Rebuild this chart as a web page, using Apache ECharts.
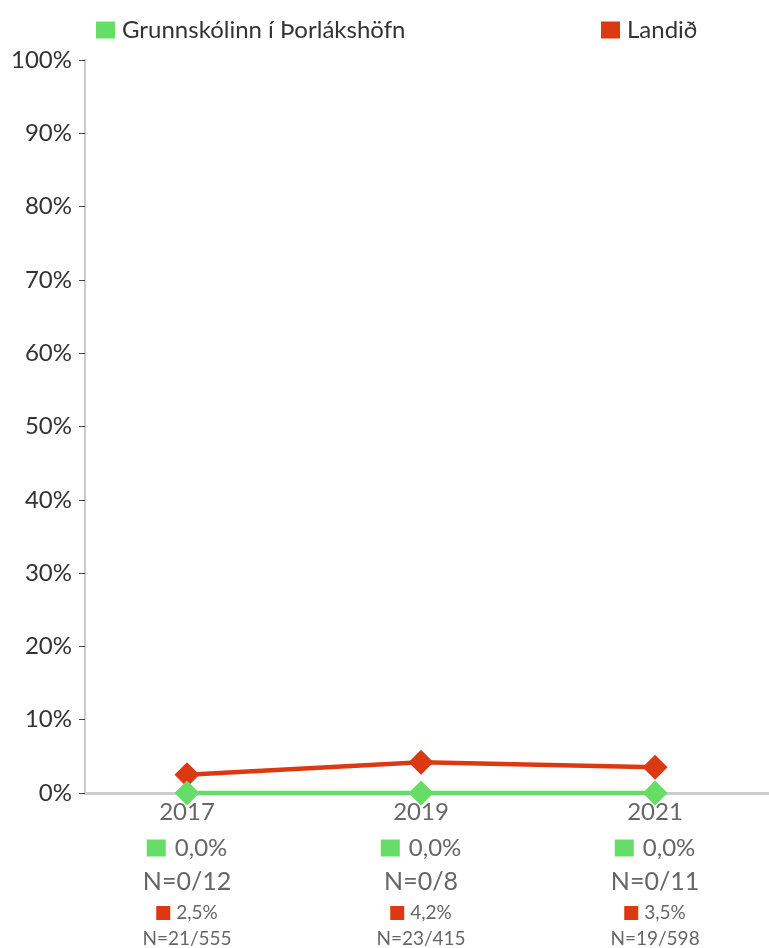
<!DOCTYPE html>
<html>
<head>
<meta charset="utf-8">
<script src="https://cdn.jsdelivr.net/npm/echarts@6/dist/echarts.min.js"></script>
<style>
html,body{margin:0;padding:0;background:#fff;}
#chart{width:769px;height:948px;}
</style>
</head>
<body>
<div id="chart"></div>
<script>
var years = ['2017', '2019', '2021'];
var schoolName = 'Grunnskólinn í Þorlákshöfn';
var countryName = 'Landið';
var schoolValues = [0, 0, 0];
var countryValues = [2.5, 4.2, 3.5];
var schoolN = ['0/12', '0/8', '0/11'];
var countryN = ['21/555', '23/415', '19/598'];
var yTicks = [0, 10, 20, 30, 40, 50, 60, 70, 80, 90, 100];

var GREEN = '#66dd66';
var RED = '#dc3912';
var FONT = 'Lato';

function pct(v) { return v.toFixed(1).replace('.', ',') + '%'; }

var chart = echarts.init(document.getElementById('chart'));
chart.setOption({
  backgroundColor: '#fff',
  animation: false,
  textStyle: { fontFamily: FONT },
  legend: [
    {
      data: [schoolName], left: 91, top: 13, icon: 'rect',
      itemWidth: 19, itemHeight: 17,
      textStyle: { fontSize: 24, color: '#333', fontFamily: FONT, padding: [0, 0, 0, 2] }
    },
    {
      data: [countryName], left: 596, top: 13, icon: 'rect',
      itemWidth: 19, itemHeight: 17,
      textStyle: { fontSize: 24, color: '#333', fontFamily: FONT, padding: [0, 0, 0, 2] }
    }
  ],
  grid: { left: 85, right: 0, top: 60, bottom: 155, containLabel: false },
  xAxis: {
    type: 'value',
    min: -0.436,
    max: 2.487,
    splitLine: { show: false },
    axisTick: { show: false },
    axisLine: { show: true, onZero: false, lineStyle: { color: '#cccccc', width: 3 } },
    axisLabel: {
      customValues: [0, 1, 2],
      margin: 2,
      formatter: function (v) {
        var i = Math.round(v);
        return '{y|' + years[i] + '}\n' +
          '{gs|}{gp|' + pct(schoolValues[i]) + '}\n' +
          '{gn|N=' + schoolN[i] + '}\n' +
          '{rs|}{rp|' + pct(countryValues[i]) + '}\n' +
          '{rn|N=' + countryN[i] + '}';
      },
      rich: {
        y: { fontSize: 24, color: '#666', lineHeight: 34, fontFamily: FONT },
        gs: { width: 19, height: 17, backgroundColor: GREEN, lineHeight: 38 },
        gp: { fontSize: 24, color: '#666', lineHeight: 38, fontFamily: FONT, padding: [0, 0, 0, 9] },
        gn: { fontSize: 25, color: '#666', lineHeight: 30, fontFamily: FONT },
        rs: { width: 14, height: 14, backgroundColor: RED, lineHeight: 32 },
        rp: { fontSize: 19, color: '#666', lineHeight: 32, fontFamily: FONT, padding: [0, 0, 0, 6] },
        rn: { fontSize: 19, color: '#666', lineHeight: 19, fontFamily: FONT }
      }
    }
  },
  yAxis: {
    type: 'value',
    min: 0,
    max: 100,
    interval: 10,
    splitLine: { show: false },
    axisLine: { show: true, onZero: false, lineStyle: { color: '#cccccc', width: 2 } },
    axisTick: { show: true, length: 6, lineStyle: { color: '#444', width: 1 } },
    axisLabel: {
      margin: 13,
      fontSize: 24,
      color: '#333',
      fontFamily: FONT,
      formatter: function (v) { return v + '%'; }
    }
  },
  series: [
    {
      name: countryName,
      type: 'line',
      data: countryValues.map(function (v, i) { return [i, v]; }),
      symbol: 'diamond',
      symbolSize: 25,
      clip: false,
      z: 2,
      itemStyle: { color: RED },
      lineStyle: { color: RED, width: 4.5 }
    },
    {
      name: schoolName,
      type: 'line',
      data: schoolValues.map(function (v, i) { return [i, v]; }),
      symbol: 'diamond',
      symbolSize: 25,
      clip: false,
      z: 3,
      itemStyle: { color: GREEN },
      lineStyle: { color: GREEN, width: 4.5 }
    }
  ]
});
</script>
</body>
</html>
